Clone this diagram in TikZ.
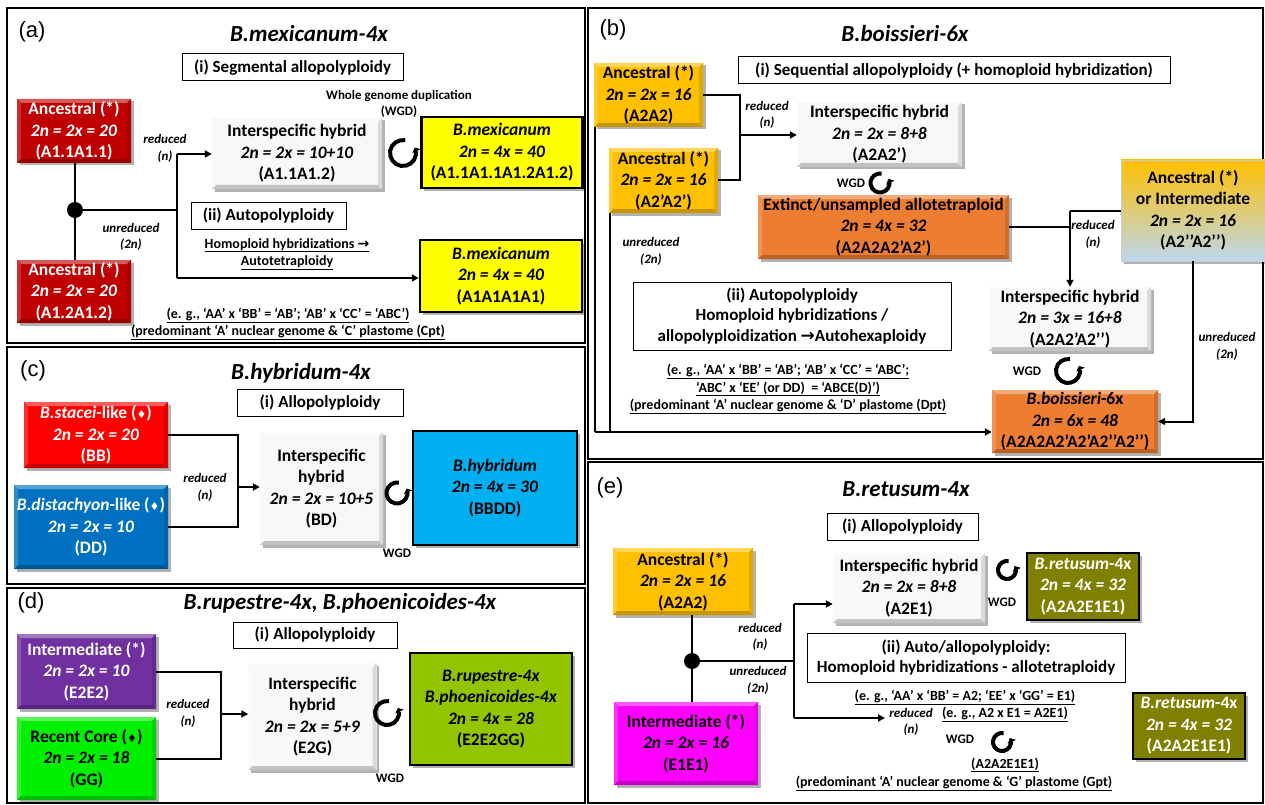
\documentclass[tikz,border=0pt]{standalone}
\usepackage{fontspec}
\setmainfont{Carlito}
\newfontfamily\lab{Liberation Sans}
\newfontfamily\djv{DejaVu Sans}
\usetikzlibrary{shadows,arrows.meta,calc}
\definecolor{darkred}{RGB}{192,0,0}
\definecolor{gold}{RGB}{255,192,0}
\definecolor{orng}{RGB}{237,125,49}
\definecolor{lblue}{RGB}{189,215,238}
\definecolor{midg}{RGB}{222,214,160}
\definecolor{brred}{RGB}{255,0,0}
\definecolor{dblue}{RGB}{0,112,192}
\definecolor{cyanb}{RGB}{0,176,240}
\definecolor{purp}{RGB}{112,48,160}
\definecolor{lgreen}{RGB}{0,240,0}
\definecolor{ygreen}{RGB}{146,196,0}
\definecolor{magn}{RGB}{255,0,255}
\definecolor{olivb}{RGB}{128,128,0}
\definecolor{yel}{RGB}{255,255,0}
\definecolor{hybw}{RGB}{248,248,248}
\newcommand\fs[2]{\fontsize{#1}{#2}\selectfont}
\newcommand\dia{{\djv\fontsize{11}{11}\selectfont ♦}}
\newcommand\rarr{{\djv\bfseries →}}
\newcommand\wgdarc[3]{\draw[line width=4pt, -{Triangle[length=4pt,width=9pt]}] (#1,#2) ++(80:#3pt) arc[start angle=80, end angle=385, radius=#3pt];}
\tikzset{
  panel/.style={draw, line width=2pt},
  plabel/.style={font=\lab\fs{22}{24}},
  ttl/.style={font=\fs{23}{26}\bfseries\itshape},
  sz/.style 2 args={minimum width=#1pt, minimum height=#2pt},
  bx/.style={rectangle, inner sep=0pt, align=center, font=\fs{17.5}{21.5}\bfseries},
  shd/.style={drop shadow={shadow xshift=2.5pt, shadow yshift=-2.5pt, fill=black, opacity=0.3}},
  bevel/.style={path picture={
     \fill[#1!65!white] (path picture bounding box.north west) -- (path picture bounding box.north east) -- ([xshift=-4pt,yshift=-4pt]path picture bounding box.north east) -- ([xshift=4pt,yshift=-4pt]path picture bounding box.north west) -- cycle;
     \fill[#1!82!white] (path picture bounding box.north west) -- ([xshift=4pt,yshift=-4pt]path picture bounding box.north west) -- ([xshift=4pt,yshift=4pt]path picture bounding box.south west) -- (path picture bounding box.south west) -- cycle;
     \fill[#1!78!black] (path picture bounding box.south west) -- (path picture bounding box.south east) -- ([xshift=-4pt,yshift=4pt]path picture bounding box.south east) -- ([xshift=4pt,yshift=4pt]path picture bounding box.south west) -- cycle;
     \fill[#1!88!black] (path picture bounding box.north east) -- (path picture bounding box.south east) -- ([xshift=-4pt,yshift=4pt]path picture bounding box.south east) -- ([xshift=-4pt,yshift=-4pt]path picture bounding box.north east) -- cycle;}},
  sbox/.style={draw, line width=1pt, fill=white, inner sep=0pt, font=\fs{17}{20.5}\bfseries, align=center},
  bev/.style={bx, fill=#1, shd, bevel=#1},
  thk/.style={bx, fill=#1, draw=black, line width=2.5pt, shd},
  hyb/.style={bx, fill=hybw, shd, bevel=hybw},
  grad/.style={bx, top color=gold, middle color=midg, bottom color=lblue, draw=black!20, line width=0.6pt, shd},
  conn/.style={line width=2pt},
  arr/.style={conn, -{Triangle[length=7pt,width=7pt]}},
  dot/.style={circle, fill=black, minimum size=16pt, inner sep=0pt},
  sml/.style={font=\fs{13}{16.5}\bfseries\itshape, align=center},
  nt/.style={font=\fs{14}{17.5}\bfseries, align=center},
  wgdt/.style={font=\fs{13}{15.5}\bfseries, align=center}
}
\begin{document}
\begin{tikzpicture}[x=1pt,y=-1pt]
\useasboundingbox (0,0) rectangle (1265,805);
\fill[white] (0,0) rectangle (1265,805);
% panels
\draw[panel] (7,8) rectangle (585,343);
\draw[panel] (588,8) rectangle (1263,459);
\draw[panel] (7,347) rectangle (585,584);
\draw[panel] (7,588) rectangle (585,803);
\draw[panel] (588,462) rectangle (1263,803);

% ---------------- (a)
\node[plabel] (la) at (32,32) {(a)};
\node[ttl] (ta) at (309,34) {B.mexicanum-4x};
\node[sbox, sz={221}{27}] (ia) at (292.5,67.5) {(i) Segmental allopolyploidy};
\node[bev=darkred, sz={114}{64}, text=white] (a1) at (74,131) {Ancestral (*)\\\textit{2n = 2x = 20}\\(A1.1A1.1)};
\node[bev=darkred, sz={114}{63}, text=white] (a2) at (74,291.5) {Ancestral (*)\\\textit{2n = 2x = 20}\\(A1.2A1.2)};
\node[hyb, sz={170}{71}] (ah) at (297,153.5) {Interspecific hybrid\\\textit{2n = 2x = 10+10}\\(A1.1A1.2)};
\node[thk=yel, sz={161}{71}] (am1) at (502,152.5) {\textit{B.mexicanum}\\\textit{2n = 4x = 40}\\(A1.1A1.1A1.2A1.2)};
\node[thk=yel, sz={162}{72}] (am2) at (501,276) {\textit{B.mexicanum}\\\textit{2n = 4x = 40}\\(A1A1A1A1)};
\node[sbox, sz={155}{27}] (iia) at (268.5,215.5) {(ii) Autopolyploidy};
\node[nt] (ha) at (287,254) {\underline{Homoploid hybridizations \rarr}\\\underline{Autotetraploidy}};
\node[nt] (ea) at (288,324) {\underline{(e. g., ‘AA’ x ‘BB’ = ‘AB’; ‘AB’ x ‘CC’ = ‘ABC’)}\\\underline{(predominant ‘A’ nuclear genome \& ‘C’ plastome (Cpt)}};
\node[wgdt] (wa) at (399,104) {Whole genome duplication\\(WGD)};
\node[sml] (ra) at (165,148.5) {reduced\\(n)};
\node[sml] (ua) at (131,237) {unreduced\\(2n)};
\wgdarc{403}{153}{13}
\coordinate (adc) at (75,210);
\coordinate (aj) at (177,210);
\coordinate (aj1) at (177,154);
\coordinate (aj2) at (177,278);
\draw[conn] (a1.south -| adc) -- (a2.north -| adc);
\draw[conn] (adc) -- (aj);
\draw[conn] (aj1) -- (aj2);
\draw[arr] (aj1) -- (ah.west |- aj1);
\draw[arr] (aj2) -- (am2.west |- aj2);
\node[dot] (ad) at (adc) {};

% ---------------- (b)
\node[plabel] (lb) at (613,30) {(b)};
\node[ttl] (tb) at (905,34) {B.boissieri-6x};
\node[sbox, sz={432}{27}] (ib) at (954,70.5) {(i) Sequential allopolyploidy (+ homoploid hybridization)};
\node[bev=gold, sz={109}{64}] (b1) at (648.5,95) {Ancestral (*)\\\textit{2n = 2x = 16}\\(A2A2)};
\node[bev=gold, sz={109}{65}] (b2) at (663.5,180.5) {Ancestral (*)\\\textit{2n = 2x = 16}\\(A2’A2’)};
\node[hyb, sz={165}{65}] (bh) at (879.5,134.5) {Interspecific hybrid\\\textit{2n = 2x = 8+8}\\(A2A2’)};
\node[wgdt] (wb1) at (851,183) {WGD};
\wgdarc{880}{183}{9.5}
\node[bev=orng, sz={251}{64}] (bx) at (883.5,227) {Extinct/unsampled allotetraploid\\\textit{2n = 4x = 32}\\(A2A2A2’A2’)};
\node[grad, sz={144}{101}] (bg) at (1193,210.5) {Ancestral (*)\\or Intermediate\\\textit{2n = 2x = 16}\\(A2’’A2’’)};
\node[hyb, sz={162}{64}] (bh2) at (1070,319) {Interspecific hybrid\\\textit{2n = 3x = 16+8}\\(A2A2’A2’’)};
\node[wgdt] (wb2) at (1027,371) {WGD};
\wgdarc{1068}{371}{12}
\node[bev=orng, sz={166}{63}] (bb) at (1075,421.5) {\textit{B.boissieri}-6x\\\textit{2n = 6x = 48}\\(A2A2A2’A2’A2’’A2’’)};
\node[sml] (rb1) at (767,115) {reduced\\(n)};
\node[sml] (rb2) at (1093,234.5) {reduced\\(n)};
\node[sml] (ub1) at (651,251.5) {unreduced\\(2n)};
\node[sml] (ub2) at (1227,346.5) {unreduced\\(2n)};
\node[sbox, sz={318}{68}] (iib) at (792,316) {(ii) Autopolyploidy\\Homoploid hybridizations /\\allopolyploidization \rarr Autohexaploidy};
\node[nt] (eb) at (788,389) {\underline{(e. g., ‘AA’ x ‘BB’ = ‘AB’; ‘AB’ x ‘CC’ = ‘ABC’;}\\\underline{‘ABC’ x ‘EE’ (or DD)~ = ‘ABCE(D)’)}\\\underline{(predominant ‘A’ nuclear genome \& ‘D’ plastome (Dpt)}};
\coordinate (bj) at (740,135);
\draw[conn] (b1.east) -| (b2.east -| bj) -- (b2.east);
\draw[arr] (bj) -- (bh.west |- bj);
\draw[conn] (bx.east) -- (bx.east -| bh2);
\draw[conn] (bg.west) -- (bg.west -| bh2);
\draw[arr] (bg.west -| bh2) -- (bh2.north);
\draw[arr] (bg.south) |- (bb.east);
\coordinate (bc) at (595,432);
\draw[conn] (b1.south west -| bc) -- (bc);
\draw[arr] (bc) -- (bb.west |- bc);
\draw[conn] ([xshift=1pt]b2.south west) -- ([xshift=1pt]b2.south west |- bc);

% ---------------- (c)
\node[plabel] (lc) at (33,371) {(c)};
\node[ttl] (tc) at (301,373) {B.hybridum-4x};
\node[sbox, sz={166}{27}] (ic) at (320,402.5) {(i) Allopolyploidy};
\node[bev=brred, sz={144}{66}, text=white] (c1) at (96,435) {\textit{B.stacei}-like (\dia)\\\textit{2n = 2x = 20}\\(BB)};
\node[bev=dblue, sz={154}{84}, text=white] (c2) at (91,527) {\textit{B.distachyon}-like (\dia)\\\textit{2n = 2x = 10}\\(DD)};
\node[hyb, sz={123}{113}] (ch) at (321.5,488.5) {Interspecific\\hybrid\\\textit{2n = 2x = 10+5}\\(BD)};
\node[thk=cyanb, sz={164}{114}] (cb) at (495,488) {\textit{B.hybridum}\\\textit{2n = 4x = 30}\\(BBDD)};
\node[sml] (rc) at (205,487.5) {reduced\\(n)};
\node[wgdt] (wc) at (397,553) {WGD};
\wgdarc{397}{493}{10.5}
\coordinate (cj) at (238,487);
\draw[conn] (c1.east) -| (c2.east -| cj) -- (c2.east);
\draw[arr] (cj) -- (ch.west |- cj);

% ---------------- (d)
\node[plabel] (ld) at (31,603) {(d)};
\node[ttl] (td) at (340,603) {B.rupestre-4x, B.phoenicoides-4x};
\node[sbox, sz={164}{26}] (id) at (315,635) {(i) Allopolyploidy};
\node[bev=purp, sz={139}{75}, text=white] (d1) at (86.5,671.5) {Intermediate (*)\\\textit{2n = 2x = 10}\\(E2E2)};
\node[bev=lgreen, sz={139}{83}] (d2) at (86.5,758.5) {Recent Core (\dia)\\\textit{2n = 2x = 18}\\(GG)};
\node[hyb, sz={128}{107}] (dh) at (312.5,716.5) {Interspecific\\hybrid\\\textit{2n = 2x = 5+9}\\(E2G)};
\node[thk=ygreen, sz={162}{112}] (db) at (491,709) {\textit{B.rupestre-4x}\\\textit{B.phoenicoides-4x}\\\textit{2n = 4x = 28}\\(E2E2GG)};
\node[sml] (rd) at (188,713.5) {reduced\\(n)};
\node[wgdt] (wd) at (390,778) {WGD};
\wgdarc{387}{713}{12}
\coordinate (dj) at (221,714);
\draw[conn] (d1.east) -| (d2.east -| dj) -- (d2.east);
\draw[arr] (dj) -- (dh.west |- dj);

% ---------------- (e)
\node[plabel] (le) at (610,488) {(e)};
\node[ttl] (te) at (906,489) {B.retusum-4x};
\node[sbox, sz={151}{27}] (ie) at (902.5,526.5) {(i) Allopolyploidy};
\node[bev=gold, sz={140}{67}] (e1) at (683,581.5) {Ancestral (*)\\\textit{2n = 2x = 16}\\(A2A2)};
\node[bev=magn, sz={144}{83}] (e2) at (686,743.5) {Intermediate (*)\\\textit{2n = 2x = 16}\\(E1E1)};
\node[hyb, sz={152}{70}] (eh) at (909,588) {Interspecific hybrid\\\textit{2n = 2x = 8+8}\\(A2E1)};
\node[thk=olivb, text=white, sz={112}{67}] (eo1) at (1083,586.5) {\textit{B.retusum}-4x\\\textit{2n = 4x = 32}\\(A2A2E1E1)};
\node[thk=olivb, text=white, sz={112}{66}] (eo2) at (1189,726) {\textit{B.retusum}-4x\\\textit{2n = 4x = 32}\\(A2A2E1E1)};
\node[sbox, sz={318}{49}] (iie) at (966,657.5) {(ii) Auto/allopolyploidy:\\Homoploid hybridizations - allotetraploidy};
\node[nt] (ee1) at (965,697) {\underline{(e. g., ‘AA’ x ‘BB’ = A2; ‘EE’ x ‘GG’ = E1)}};
\node[sml] (re2) at (911,722) {reduced\\(n)};
\node[nt] (ee2) at (1005,714) {\underline{(e. g., A2 x E1 = A2E1)}};
\node[wgdt] (we2) at (960,739) {WGD};
\wgdarc{1002}{742}{9}
\node[nt] (ee3) at (1005,765) {\underline{(A2A2E1E1)}};
\node[nt] (ee4) at (954,783) {\underline{(predominant ‘A’ nuclear genome \& ‘G’ plastome (Gpt)}};
\node[sml] (re1) at (760,637) {reduced\\(n)};
\node[sml] (ue1) at (758,680.5) {unreduced\\(2n)};
\node[wgdt] (we1) at (1002,602) {WGD};
\wgdarc{1007}{570}{9}
\coordinate (edc) at (692,661);
\coordinate (ej) at (794,661);
\coordinate (ej1) at (794,604);
\coordinate (ej2) at (794,718);
\coordinate (eend) at (885,718);
\draw[conn] (e1.south -| edc) -- (e2.north -| edc);
\draw[conn] (edc) -- (ej);
\draw[conn] (ej1) -- (ej2);
\draw[arr] (ej1) -- (eh.west |- ej1);
\draw[arr] (ej2) -- (eend);
\node[dot] (ed) at (edc) {};
\end{tikzpicture}
\end{document}
